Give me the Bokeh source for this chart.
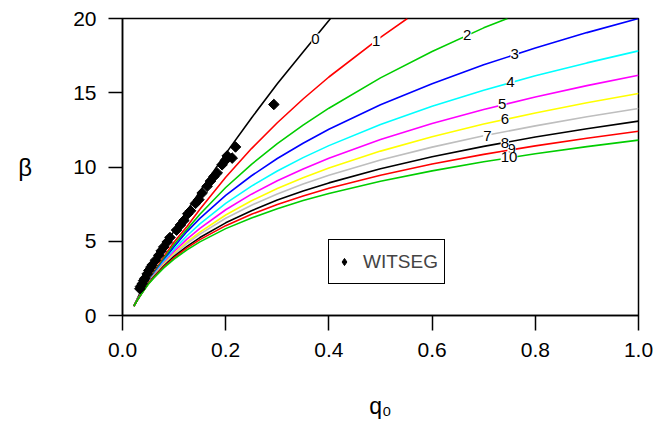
from bokeh.plotting import figure
from bokeh.models import (Range1d, ColumnDataSource, LabelSet, Legend, LegendItem,
                          FixedTicker, NumeralTickFormatter)
from bokeh.core.properties import value
from bokeh.embed import file_html
from bokeh.resources import INLINE

# ---------------- data ----------------
q_grid = [0.022, 0.03, 0.04, 0.05, 0.06, 0.08, 0.10, 0.125, 0.15, 0.20,
          0.25, 0.30, 0.35, 0.40, 0.50, 0.60, 0.70, 0.80, 0.90, 1.00]

q_c0 = q_grid[:14] + [0.403]
beta_c0 = [0.63, 1.22, 1.95, 2.65, 3.30, 4.55, 5.70, 7.05, 8.35, 10.9,
           13.3, 15.6, 17.75, 19.87, 20.0]
q_c1 = q_grid[:15] + [0.552]
beta_c1 = [0.63, 1.16, 1.76, 2.40, 2.88, 3.95, 4.95, 6.00, 7.15, 9.31,
           11.24, 12.98, 14.58, 16.06, 18.73, 20.0]
q_c2 = q_grid[:17] + [0.746]
beta_c2 = [0.63, 1.14, 1.71, 2.32, 2.80, 3.82, 4.78, 5.80, 6.82, 8.62,
           10.18, 11.57, 12.82, 13.96, 16.00, 17.78, 19.37, 20.0]
beta_c3 = [0.63, 1.13, 1.69, 2.28, 2.74, 3.72, 4.63, 5.65, 6.54, 8.09,
           9.41, 10.57, 11.60, 12.54, 14.19, 15.61, 16.88, 18.01, 19.05, 20.0]
beta_c4 = [0.63, 1.13, 1.68, 2.25, 2.71, 3.63, 4.45, 5.37, 6.17, 7.55,
           8.71, 9.73, 10.63, 11.44, 12.86, 14.09, 15.17, 16.14, 17.01, 17.82]
beta_c5 = [0.63, 1.12, 1.67, 2.22, 2.67, 3.54, 4.30, 5.14, 5.87, 7.12,
           8.17, 9.07, 9.87, 10.59, 11.85, 12.93, 13.87, 14.72, 15.48, 16.18]
beta_c6 = [0.63, 1.12, 1.66, 2.20, 2.63, 3.46, 4.17, 4.95, 5.62, 6.77,
           7.73, 8.55, 9.28, 9.93, 11.07, 12.04, 12.89, 13.64, 14.33, 14.95]
beta_c7 = [0.63, 1.11, 1.65, 2.18, 2.61, 3.40, 4.08, 4.85, 5.48, 6.55,
           7.43, 8.18, 8.85, 9.44, 10.47, 11.34, 12.10, 12.77, 13.38, 13.94]
beta_c8 = [0.63, 1.11, 1.64, 2.15, 2.57, 3.33, 3.98, 4.65, 5.25, 6.24,
           7.06, 7.77, 8.38, 8.93, 9.88, 10.69, 11.39, 12.02, 12.58, 13.09]
beta_c9 = [0.63, 1.10, 1.63, 2.13, 2.54, 3.27, 3.89, 4.55, 5.11, 6.05,
           6.82, 7.48, 8.05, 8.57, 9.45, 10.20, 10.85, 11.42, 11.94, 12.41]
beta_c10 = [0.63, 1.10, 1.62, 2.10, 2.50, 3.20, 3.80, 4.42, 4.96, 5.85,
            6.57, 7.19, 7.74, 8.22, 9.04, 9.74, 10.35, 10.89, 11.37, 11.81]

curve_names = ["0", "1", "2", "3", "4", "5", "6", "7", "8", "9", "10"]
curve_colors = ["black", "#FF0000", "#00CD00", "#0000FF", "#00FFFF", "#FF00FF",
                "#FFFF00", "#BEBEBE", "black", "#FF0000", "#00CD00"]

# contour label positions
label_text = ["0", "1", "2", "3", "4", "5", "6", "7", "9", "8", "10"]
label_q = [0.374, 0.4917, 0.668, 0.760, 0.752, 0.736, 0.741, 0.707, 0.754, 0.741, 0.749]
label_beta = [18.65, 18.5, 18.86, 17.62, 15.71, 14.21, 13.2, 12.12, 11.22, 11.62, 10.66]

# WITSEG observations
wit_q = [0.0336, 0.0349, 0.0381, 0.0410, 0.0433, 0.0478, 0.0510, 0.0550, 0.0575,
         0.0640, 0.0704, 0.0750, 0.0800, 0.0866, 0.0920, 0.1047, 0.1124, 0.1190,
         0.1266, 0.1318, 0.1415, 0.1480, 0.1544, 0.1640, 0.1705, 0.1770, 0.1835,
         0.1930, 0.1996, 0.2030, 0.2126, 0.2190, 0.2933]
wit_beta = [1.80, 1.95, 2.13, 2.35, 2.50, 2.80, 3.03, 3.25, 3.40,
            3.72, 4.05, 4.35, 4.62, 4.95, 5.25, 5.75, 6.10, 6.40,
            6.85, 7.05, 7.55, 7.80, 8.25, 8.70, 9.05, 9.35, 9.60,
            10.15, 10.45, 10.75, 10.60, 11.35, 14.21]

x_ticks = [0.0, 0.2, 0.4, 0.6, 0.8, 1.0]
y_ticks = [0, 5, 10, 15, 20]

# ---------------- figure ----------------
FONT = "Liberation Sans"
p = figure(width=655, height=423, x_range=Range1d(0, 1), y_range=Range1d(0, 20),
           output_backend="svg", toolbar_location=None,
           min_border_left=122, min_border_right=17, min_border_top=18,
           min_border_bottom=108)
p.grid.visible = False
p.outline_line_color = "black"
p.outline_line_width = 1.5
p.background_fill_color = "white"
p.border_fill_color = "white"

for ax in (p.xaxis[0], p.yaxis[0]):
    ax.axis_line_width = 1.5
    ax.major_tick_line_width = 1.5
    ax.major_tick_in = 0
    ax.minor_tick_line_color = None
    ax.major_label_text_font = FONT
    ax.major_label_text_font_size = "21px"
    ax.major_label_text_color = "black"
    ax.axis_label_text_font = FONT
    ax.axis_label_text_font_style = "normal"
    ax.axis_label_text_color = "black"

p.xaxis.ticker = FixedTicker(ticks=x_ticks)
p.xaxis.formatter = NumeralTickFormatter(format="0.0")
p.xaxis.major_tick_out = 15
p.xaxis.major_label_standoff = 12
p.xaxis.axis_label = "q\u2080"
p.xaxis.axis_label_text_font_size = "23px"
p.xaxis.axis_label_standoff = 33

p.yaxis.ticker = FixedTicker(ticks=y_ticks)
p.yaxis.major_tick_out = 14
p.yaxis.major_label_standoff = 12
p.yaxis.axis_label = "\u03b2"
p.yaxis.axis_label_text_font_size = "24px"
p.yaxis.axis_label_orientation = "horizontal"
p.yaxis.axis_label_standoff = 38

curve_q = [q_c0, q_c1, q_c2] + [q_grid] * 8
curve_beta = [beta_c0, beta_c1, beta_c2, beta_c3, beta_c4, beta_c5, beta_c6,
              beta_c7, beta_c8, beta_c9, beta_c10]
for qs, bs, col in zip(curve_q, curve_beta, curve_colors):
    p.line(qs, bs, line_color=col, line_width=1.6)

# legend key: a diamond drawn on the last observation, hidden under its marker
key = p.scatter(wit_q[-1:], wit_beta[-1:], marker="diamond", size=9,
                fill_color="black", line_color="black")
p.scatter(wit_q, wit_beta, marker="square", angle=0.785398, size=7.5,
          fill_color="black", line_color="black")

lab_src = ColumnDataSource(dict(x=label_q, y=label_beta, t=label_text))
labels = LabelSet(x="x", y="y", text="t", source=lab_src, text_align="center",
                  text_baseline="middle", text_font=value(FONT),
                  text_font_size=value("15px"), text_color="black",
                  background_fill_color="white")
p.add_layout(labels)

legend = Legend(items=[LegendItem(label="WITSEG", renderers=[key])],
                location=(206, 31), border_line_color="black", border_line_width=1.5,
                border_line_alpha=1.0,
                background_fill_color="white", background_fill_alpha=1.0,
                label_text_font=FONT, label_text_font_size="19px",
                glyph_width=18, glyph_height=31, label_height=31,
                padding=6, label_standoff=10, margin=0, spacing=0)
p.add_layout(legend)

open("out.html", "w").write(file_html(p, INLINE))
